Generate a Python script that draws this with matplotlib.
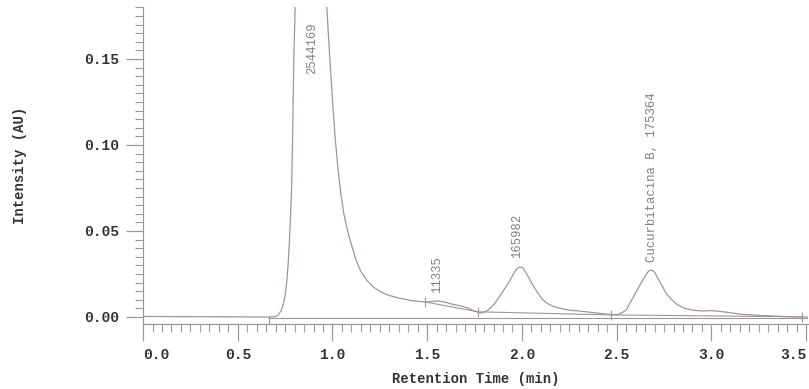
import numpy as np
import matplotlib
matplotlib.use('Agg')
import matplotlib.pyplot as plt
from matplotlib.ticker import MultipleLocator, FormatStrFormatter

# ── chromatogram trace ──
time_min = [0.00, 0.20, 0.40, 0.60, 0.68, 0.70, 0.715, 0.73, 0.742, 0.752, 0.760,
            0.766, 0.772, 0.778, 0.784, 0.789, 0.793, 0.797, 0.803, 0.81, 0.85,
            0.89, 0.93, 0.97, 0.985, 1.00, 1.015, 1.03, 1.045, 1.06, 1.08, 1.10,
            1.128, 1.15, 1.18, 1.22, 1.265, 1.30, 1.35, 1.42,
            1.49, 1.53, 1.56, 1.60, 1.64, 1.68, 1.72, 1.75, 1.78, 1.80, 1.82,
            1.85, 1.87, 1.90, 1.93, 1.96, 1.975, 1.99, 2.005, 2.02, 2.05, 2.08,
            2.11, 2.14, 2.17, 2.21, 2.25, 2.30, 2.34, 2.40, 2.46, 2.50, 2.52,
            2.55, 2.58, 2.61, 2.63, 2.66, 2.67, 2.68, 2.69, 2.70, 2.73, 2.76,
            2.79, 2.82, 2.86, 2.90, 2.95, 3.00, 3.05, 3.11, 3.16, 3.21, 3.27,
            3.32, 3.40, 3.48, 3.51]
intensity = [0.0003, 0.0002, 0.0001, 0.0000, 0.0000, 0.0003, 0.0012, 0.004, 0.008,
             0.014, 0.022, 0.031, 0.043, 0.057, 0.075, 0.100, 0.130, 0.155, 0.18,
             0.22, 0.30, 0.33, 0.28, 0.18, 0.152, 0.126, 0.103, 0.085, 0.071,
             0.060, 0.050, 0.042, 0.032, 0.0265, 0.0215, 0.0170, 0.014, 0.0125,
             0.011, 0.0095,
             0.0087, 0.0091, 0.0093, 0.0085,
             0.0072, 0.0064, 0.0050, 0.0034, 0.0023, 0.0028, 0.004, 0.007, 0.010,
             0.015, 0.020, 0.026, 0.0283, 0.029, 0.0285, 0.026, 0.020, 0.0145,
             0.010, 0.0075, 0.006, 0.0048, 0.004, 0.0035, 0.003, 0.0022, 0.0015,
             0.0013, 0.002, 0.004, 0.010, 0.016, 0.020, 0.0255, 0.0268, 0.0273,
             0.0270, 0.0260, 0.020, 0.014, 0.010, 0.0072, 0.005, 0.0040, 0.0035,
             0.0037, 0.0032, 0.0023, 0.0016, 0.0012, 0.0008, 0.0006, 0.0002,
             0.0, 0.0]

# integration baselines (start/end of each segment)
base_x0 = [0.665, 1.49, 1.77, 2.47]
base_x1 = [3.51, 1.77, 2.47, 3.48]
base_y0 = [-0.0006, 0.0087, 0.0030, 0.0012]
base_y1 = [-0.0006, 0.0030, 0.0012, 0.0001]

# peak labels
peak_labels = ['2544169', '11335', '165982', 'Cucurbitacina B, 175364']
peak_x = [0.89, 1.55, 1.975, 2.685]
peak_y = [0.141, 0.014, 0.034, 0.032]

line_c = '#a3949a'
mono = 'Liberation Mono'

fig = plt.figure(figsize=(8.09, 3.89), dpi=100)
ax = fig.add_axes([0.1768, 0.167, 0.822, 0.815])

ax.plot(time_min, intensity, color=line_c, lw=0.9)

# baselines + little end markers
for xa, xb, ya, yb in zip(base_x0, base_x1, base_y0, base_y1):
    ax.plot([xa, xb], [ya, yb], color=line_c, lw=0.8)
ends_x = base_x0 + [base_x1[-1]]
ends_y = base_y0 + [base_y1[-1]]
for i, (ex, ey) in enumerate(zip(ends_x, ends_y)):
    if i == 0:
        ax.vlines(ex, ey - 0.0035, ey + 0.0012, color=line_c, lw=0.8)
    else:
        ax.vlines(ex, ey - 0.003, ey + 0.003, color=line_c, lw=0.8)

for lab, px, py in zip(peak_labels, peak_x, peak_y):
    ax.text(px, py, lab, rotation=90, ha='center', va='bottom',
            fontsize=8.8, family=mono, color='#808080')

ax.set_xlim(0, 3.51)
ax.set_ylim(-0.0041, 0.1802)

ax.xaxis.set_major_locator(MultipleLocator(0.5))
ax.xaxis.set_minor_locator(MultipleLocator(0.05))
ax.yaxis.set_major_locator(MultipleLocator(0.05))
ax.yaxis.set_minor_locator(MultipleLocator(0.005))
ax.xaxis.set_major_formatter(FormatStrFormatter('%.1f'))
ax.yaxis.set_major_formatter(FormatStrFormatter('%.2f'))

for s in ['top', 'right']:
    ax.spines[s].set_visible(False)
for s in ['left', 'bottom']:
    ax.spines[s].set_color('#9a9a9a')
    ax.spines[s].set_linewidth(0.9)

ax.tick_params(which='major', length=12, width=0.9, color='#9a9a9a', pad=5)
ax.tick_params(which='minor', length=6, width=0.8, color='#9a9a9a')

ax.set_xlabel('Retention Time (min)', family=mono, fontweight='bold',
              fontsize=10, color='#333333')
ax.set_ylabel('Intensity (AU)', family=mono, fontweight='bold',
              fontsize=10, color='#333333')
ax.xaxis.set_label_coords(0.5, -0.15)
ax.yaxis.set_label_coords(-0.175, 0.5)

fig.canvas.draw()
for t in ax.get_xticklabels() + ax.get_yticklabels():
    t.set_fontfamily(mono)
    t.set_fontweight('bold')
    t.set_fontsize(10.5)
    t.set_color('#333333')
for tick in ax.xaxis.get_major_ticks():
    txt = tick.label1.get_text()
    if txt == '0.0':
        tick.label1.set_horizontalalignment('left')
    elif txt == '3.5':
        tick.label1.set_horizontalalignment('right')

fig.savefig('out.png', dpi=100)
